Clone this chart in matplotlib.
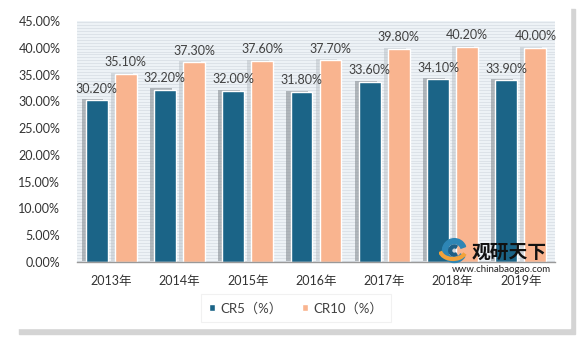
import numpy as np
import matplotlib.pyplot as plt
from matplotlib.patches import Rectangle, Wedge, Arc

years = ["2013年", "2014年", "2015年", "2016年", "2017年", "2018年", "2019年"]
cr5 = [30.2, 32.2, 32.0, 31.8, 33.6, 34.1, 33.9]
cr10 = [35.1, 37.3, 37.6, 37.7, 39.8, 40.2, 40.0]
series_names = ["CR5（%）", "CR10（%）"]

C_CR5 = "#1b6487"
C_CR10 = "#f9b48f"
plt.rcParams["font.family"] = ["Lato", "Noto Sans CJK SC", "DejaVu Sans"]

fig = plt.figure(figsize=(5.84, 3.39), dpi=100)
W, H = 584, 339

# card with drop shadow
fig.patches.append(Rectangle((19 / W, 1 - 334 / H), 556 / W, 325 / H,
                             transform=fig.transFigure, color="#d4d4d4", zorder=0))
fig.patches.append(Rectangle((15 / W, 1 - 328 / H), 555 / W, 323 / H,
                             transform=fig.transFigure, color="white", zorder=1))

ax = fig.add_axes([77 / W, 1 - 262 / H, 478 / W, 241 / H], zorder=2)
ax.set_facecolor("#edf2f6")
for v in np.arange(0.25, 45, 0.55):
    ax.axhline(v, color="#d9e0e6", lw=0.6, zorder=0)

x = np.arange(len(years))
off, bw = 0.213, 0.32
# soft shadows behind bars
ax.bar(x - off - 0.06, cr5, bw, bottom=0.2, color="#7f868c", alpha=0.55, zorder=1)
ax.bar(x + off - 0.06, cr10, bw, bottom=0.2, color="#b3b9bf", alpha=0.45, zorder=1)
ax.bar(x - off, cr5, bw, color=C_CR5, edgecolor="white", lw=1, zorder=2, label=series_names[0])
ax.bar(x + off, cr10, bw, color=C_CR10, edgecolor="white", lw=1, zorder=2, label=series_names[1])

for xi, a, b in zip(x, cr5, cr10):
    ax.annotate(f"{a:.2f}%", (xi - off, a), xytext=(0, 4), textcoords="offset points",
                ha="center", va="bottom", fontsize=9, color="#404040", zorder=3)
    ax.annotate(f"{b:.2f}%", (xi + off, b), xytext=(0, 4), textcoords="offset points",
                ha="center", va="bottom", fontsize=9, color="#404040", zorder=3)

ax.set_xlim(-0.5, len(years) - 0.5)
ax.set_ylim(0, 45)
ax.set_yticks(np.arange(0, 46, 5))
ax.set_yticklabels([f"{v:.2f}%" for v in np.arange(0, 46, 5)])
ax.set_xticks(x)
ax.set_xticklabels(years)
ax.tick_params(axis="y", length=0, labelsize=9, labelcolor="#333333", pad=12)
ax.tick_params(axis="x", length=0, labelsize=9, labelcolor="#333333", pad=9)
for s in ["top", "right", "left"]:
    ax.spines[s].set_visible(False)
ax.spines["bottom"].set_color("#999999")
ax.spines["bottom"].set_linewidth(1)

# watermark: logo, brand name and url
logo = fig.add_axes([438 / W, 1 - 266 / H, 30 / W, 28 / H], zorder=5)
logo.set_xlim(-1, 1)
logo.set_ylim(-1, 1)
logo.set_aspect("equal")
logo.axis("off")
logo.add_patch(Wedge((0.1, 0.1), 0.85, 20, 330, width=0.35, color="#2e86b5"))
logo.add_patch(Wedge((0.1, 0.1), 0.4, 60, 300, width=0.2, color="#1d5f86"))
logo.add_patch(Arc((0.0, 0.2), 1.9, 1.4, theta1=190, theta2=340, color="#f2a23a", lw=3))
fig.text(509 / W, 1 - 252 / H, "观研天下", fontsize=13.5, fontweight="heavy", color="#111111",
         ha="center", va="center", family=["Noto Sans CJK SC"], zorder=6)
fig.text(501 / W, 1 - 269 / H, "www.chinabaogao.com", fontsize=7, color="#222222",
         ha="center", va="center", zorder=6)

leg = fig.legend(loc="center", bbox_to_anchor=(296 / W, 1 - 308 / H), ncol=2, frameon=True,
                 fontsize=9.5, handlelength=0.45, handleheight=0.45, handletextpad=0.45,
                 columnspacing=1.45, borderpad=0.6, borderaxespad=0, fancybox=False)
leg.get_frame().set_edgecolor("#eeeeee")
leg.get_frame().set_linewidth(0.8)
for t in leg.get_texts():
    t.set_color("#404040")

fig.savefig("out.png", dpi=100)
